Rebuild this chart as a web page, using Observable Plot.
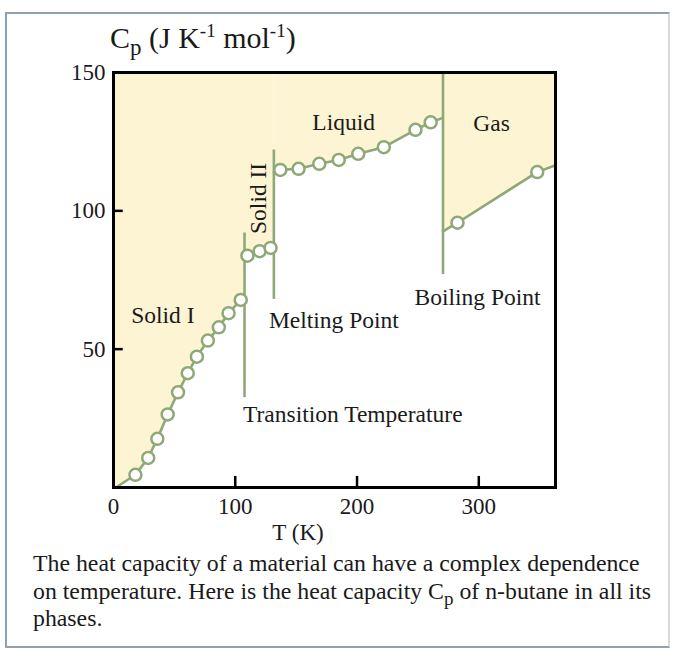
<!DOCTYPE html>
<html>
<head>
<meta charset="utf-8">
<script src="https://cdn.jsdelivr.net/npm/d3@7"></script>
<script src="https://cdn.jsdelivr.net/npm/@observablehq/plot@0.6"></script>
<style>
  html, body { margin: 0; padding: 0; background: #fff; }
  #wrap { position: relative; width: 676px; height: 649px; overflow: hidden; font-family: "Liberation Serif", "Times New Roman", serif; color: #1a1a1a; }
  #box { position: absolute; left: 5px; top: 12px; width: 661px; height: 632px; border: 2px solid #8ea1b0; border-right-color: #d8d8d8; }
  #chart { position: absolute; left: 0; top: 0; }
  #title { position: absolute; left: 110px; top: 21px; font-size: 30px; white-space: nowrap; }
  #title sub { font-size: 23px; vertical-align: -7px; line-height: 0; }
  #title sup { font-size: 19px; vertical-align: 11px; line-height: 0; }
  #xlabel { position: absolute; left: 248px; width: 100px; text-align: center; top: 520px; font-size: 23px; }
  #caption { position: absolute; left: 33px; top: 550px; width: 640px; font-size: 23.8px; line-height: 27.5px; white-space: nowrap; }
  #caption sub { font-size: 19px; vertical-align: -6px; line-height: 0; }
</style>
</head>
<body>
<div id="wrap">
  <div id="box"></div>
  <div id="chart"></div>
  <div id="title">C<sub>p</sub> (J K<sup>-1</sup> mol<sup>-1</sup>)</div>
  <div id="xlabel">T (K)</div>
  <div id="caption">The heat capacity of a material can have a complex dependence<br>on temperature. Here is the heat capacity C<sub>p</sub> of n-butane in all its<br>phases.</div>
</div>
<script>
// ---- data ----
// measured points (open circles)
const solidI_T  = [18, 28.5, 36, 44.5, 53, 61, 68.5, 77.5, 86.5, 94.5, 104.5];
const solidI_Cp = [4.6, 10.7, 17.6, 26.4, 34.4, 41.3, 47.3, 53.1, 57.9, 63.0, 67.8];
const solidII_T  = [110, 120, 129];
const solidII_Cp = [83.8, 85.4, 86.6];
const liquid_T  = [137, 152, 169, 185, 201, 222, 248, 260.5];
const liquid_Cp = [114.8, 115.2, 117, 118.4, 120.6, 123, 129.3, 132];
const gas_T  = [282.5, 348];
const gas_Cp = [95.7, 114];

// phase boundaries (K)
const transitionT = 107.6;
const meltingT = 131.7;
const boilingT = 270.6;

// curve ends at the phase boundaries / plot edges
const solidI_start = [2, 0];      const solidI_end = [transitionT, 69];
const solidII_start = [transitionT, 83.3]; const solidII_end = [meltingT, 87];
const liquid_start = [meltingT, 114];     const liquid_end = [boilingT, 133.6];
const gas_start = [boilingT, 92.6];       const gas_end = [363, 116.5];

// vertical boundary lines: [T, Cp from, Cp to]
const boundaryLines = [
  [transitionT, 32.5, 92],
  [meltingT, 68, 122],
  [boilingT, 77, 150]
];

// labels: [text, T, Cp, rotate]
const labels = [
  ["Solid I", 40.5, 62, 0],
  ["Solid II", 119, 104.5, -90],
  ["Liquid", 189, 131.8, 0],
  ["Gas", 310.5, 131.5, 0],
  ["Melting Point", 181, 60.5, 0],
  ["Boiling Point", 299, 68.8, 0],
  ["Transition Temperature", 196.5, 26.5, 0]
];

const xTickLabels = [0, 100, 200, 300];
const xTicksInner = [100, 200, 300];
const yTickLabels = [50, 100, 150];
const yTicksInner = [50, 100];

// ---- build tables ----
function pts(phase, T, Cp) { return T.map((t, i) => ({phase, T: t, Cp: Cp[i]})); }
const points = [
  ...pts("Solid I", solidI_T, solidI_Cp),
  ...pts("Solid II", solidII_T, solidII_Cp),
  ...pts("Liquid", liquid_T, liquid_Cp),
  ...pts("Gas", gas_T, gas_Cp)
];
function seg(phase, start, T, Cp, end) {
  return [{phase, T: start[0], Cp: start[1]}, ...pts(phase, T, Cp), {phase, T: end[0], Cp: end[1]}];
}
const curve = [
  ...seg("Solid I", solidI_start, solidI_T, solidI_Cp, solidI_end),
  ...seg("Solid II", solidII_start, solidII_T, solidII_Cp, solidII_end),
  ...seg("Liquid", liquid_start, liquid_T, liquid_Cp, liquid_end),
  ...seg("Gas", gas_start, gas_T, gas_Cp, gas_end)
];
// fill from x=0 at the start of Solid I
curve.unshift({phase: "Solid I", T: 0, Cp: 0});
const lbl = labels.map(([text, T, Cp, rotate]) => ({text, T, Cp, rotate}));
const bounds = boundaryLines.map(([T, a, b]) => ({T, a, b}));

const green = "#8fa877";
const font = "Liberation Serif, Times New Roman, serif";

const chart = Plot.plot({
  width: 676,
  height: 560,
  marginLeft: 113,
  marginRight: 121,
  marginTop: 72,
  marginBottom: 73,
  x: {domain: [0, 363]},
  y: {domain: [0, 150]},
  style: {fontFamily: font, fontSize: "23px", background: "transparent", color: "#1a1a1a"},
  marks: [
    Plot.areaY(curve, {x: "T", y1: "Cp", y2: 150, z: "phase", fill: "#fdf4d3", fillOpacity: 1}),
    Plot.line(curve.filter(d => d.T > 0), {x: "T", y: "Cp", z: "phase", stroke: green, strokeWidth: 2.6}),
    Plot.ruleX(bounds, {x: "T", y1: "a", y2: "b", stroke: green, strokeWidth: 2.6}),
    Plot.dot(points, {x: "T", y: "Cp", r: 6, stroke: green, strokeWidth: 2.5, fill: "white"}),
    Plot.text(lbl.filter(d => d.rotate === 0), {x: "T", y: "Cp", text: "text", fontSize: 23.5, fill: "#1a1a1a"}),
    Plot.text(lbl.filter(d => d.rotate !== 0), {x: "T", y: "Cp", text: "text", rotate: -90, fontSize: 23.5, fill: "#1a1a1a"}),
    Plot.ruleX(xTicksInner, {x: d => d, y1: 0, y2: 4, stroke: "black", strokeWidth: 2.5}),
    Plot.ruleY(yTicksInner, {y: d => d, x1: 0, x2: 8, stroke: "black", strokeWidth: 2.5}),
    Plot.axisX({ticks: xTickLabels, tickSize: 0, tickPadding: 10, fontSize: 23, label: null}),
    Plot.axisY({ticks: yTickLabels, tickSize: 0, tickPadding: 8, fontSize: 23, label: null}),
    Plot.frame({stroke: "black", strokeWidth: 3})
  ]
});
document.getElementById("chart").appendChild(chart);
</script>
</body>
</html>
